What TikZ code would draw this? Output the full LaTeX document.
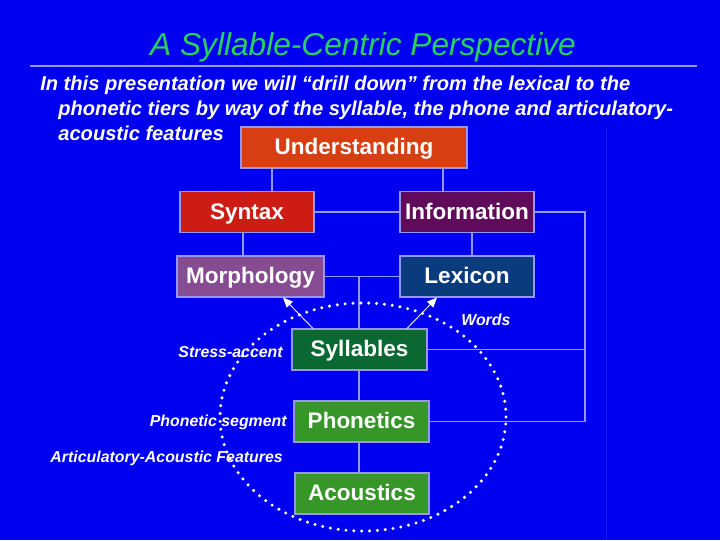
\documentclass[tikz,border=0pt]{standalone}
\usepackage{fontspec}
\setmainfont{Liberation Sans}
\usepackage{tikz}
\usetikzlibrary{
    positioning,
    arrows.meta
}
\definecolor{slideblue}{RGB}{0,0,240}
\definecolor{rulecol}{RGB}{150,150,255}
\definecolor{titlegreen}{RGB}{40,210,90}
\definecolor{undcol}{RGB}{215,62,18}
\definecolor{syncol}{RGB}{205,28,20}
\definecolor{infcol}{RGB}{95,10,90}
\definecolor{morcol}{RGB}{135,75,145}
\definecolor{lexcol}{RGB}{10,60,125}
\definecolor{sylcol}{RGB}{10,105,50}
\definecolor{phocol}{RGB}{55,150,40}
\tikzset{
    >={Triangle[length=7pt,width=6pt]},
    tier/.style={
        draw=rulecol,
        line width=0.8pt,
        text=white,
        font=\fontsize{16}{18}\selectfont\bfseries,
        minimum height=1.025cm,
        text height=12pt,
        text depth=2pt,
        inner sep=0pt
    },
    tag/.style={
        text=white,
        font=\fontsize{11.3}{13}\selectfont\bfseries\itshape,
        inner sep=0pt
    },
    link/.style={
        draw=rulecol,
        line width=0.8pt
    }
}
\begin{document}
\begin{tikzpicture}[
    x=0.025cm,
    y=-0.025cm
]

    % Fondo
    \fill[slideblue] (0,0) rectangle (720,540);
    \useasboundingbox (0,0) rectangle (720,540);
    \draw[blue!90!white, line width=0.6pt] (606,128) -- (606,540);

    % Titulo
    \node[text=titlegreen, font=\fontsize{22.5}{26}\selectfont\itshape]
        (title) at (363,47) {A Syllable-Centric Perspective};
    \draw[rulecol, line width=0.8pt] (30,66) -- (697,66);
    \node[text=white, font=\fontsize{14.3}{17.7}\selectfont\bfseries\itshape,
          anchor=north west, align=left, inner sep=0pt]
        (intro) at (40,76)
        {In this presentation we will “drill down” from the lexical to the\\
         \hspace*{0.9em}phonetic tiers by way of the syllable, the phone and articulatory-\\
         \hspace*{0.9em}acoustic features};

    % Niveles
    \node[tier, fill=undcol, minimum width=5.65cm]  (und) at (354,147.5) {Understanding};
    \node[tier, fill=syncol, minimum width=3.35cm]  (syn) at (247,212)   {Syntax};
    \node[tier, fill=infcol, minimum width=3.35cm]  (inf) at (467,212)   {Information};
    \node[tier, fill=morcol, minimum width=3.675cm] (mor) at (250.5,276.5) {Morphology};
    \node[tier, fill=lexcol, minimum width=3.35cm]  (lex) at (467,276.5) {Lexicon};
    \node[tier, fill=sylcol, minimum width=3.375cm] (syl) at (359.5,349.5) {Syllables};
    \node[tier, fill=phocol, minimum width=3.375cm] (pho) at (361.5,421.5) {Phonetics};
    \node[tier, fill=phocol, minimum width=3.35cm]  (aco) at (362,493.5) {Acoustics};

    % Etiquetas
    \node[tag, anchor=east] (stress)   at (283,352) {Stress-accent};
    \node[tag, anchor=east] (segment)  at (287,422) {Phonetic segment};
    \node[tag, anchor=east] (features) at (283,458) {Articulatory-Acoustic Features};
    \node[tag, anchor=west] (words)    at (461,320) {Words};

    % Conexiones
    \path[link]
        (272,0 |- und.south) edge (272,0 |- syn.north)
        (443,0 |- und.south) edge (443,0 |- inf.north)
        (syn.east) edge (syn.east -| inf.west)
        (243,0 |- syn.south) edge (243,0 |- mor.north)
        (472,0 |- inf.south) edge (472,0 |- lex.north)
        (mor.east) edge (lex.west)
        (359,0 |- mor.east) edge (359,0 |- syl.north)
        (359,0 |- syl.south) edge (359,0 |- pho.north)
        (359,0 |- pho.south) edge (359,0 |- aco.north)
        (syl.east) edge (585,0 |- syl.east);
    \draw[link] (inf.east) -- (585,0 |- inf.east) -- (585,0 |- pho.east) -- (pho.east);

    % Flechas hacia arriba
    \draw[->, white, line width=0.6pt] (313,0 |- syl.north) -- (283,0 |- mor.south);
    \draw[->, white, line width=0.6pt] (407,0 |- syl.north) -- (437,0 |- lex.south);

    % Elipse punteada
    \draw[white, line width=2.4pt, line cap=round, dash pattern=on 0pt off 5.6pt]
        (363,417) ellipse [x radius=3.575cm, y radius=2.85cm];

\end{tikzpicture}
\end{document}
